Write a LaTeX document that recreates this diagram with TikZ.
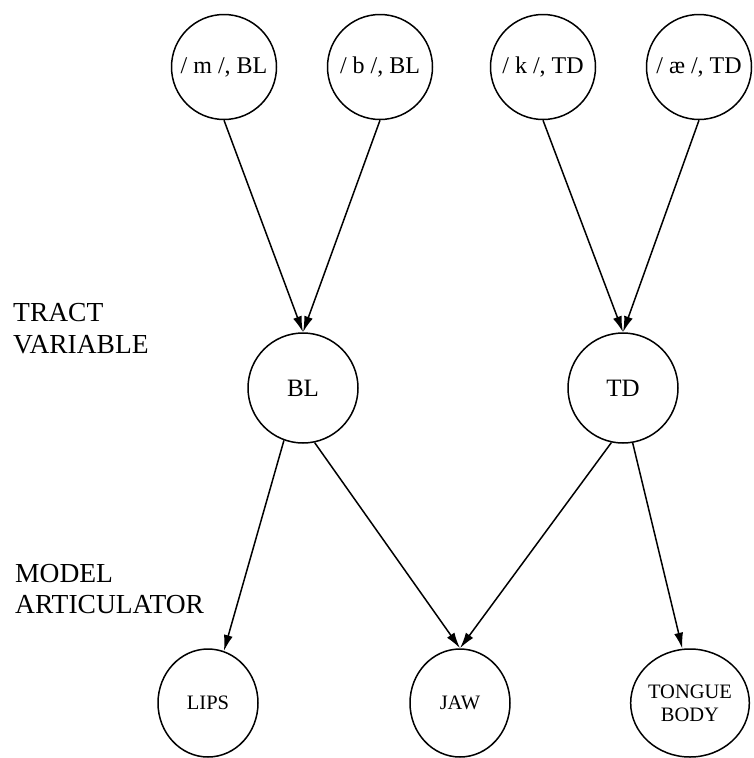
\documentclass[tikz,border=0pt]{standalone}
\usepackage{fontspec}
\setmainfont{Liberation Serif}
\usetikzlibrary{arrows.meta,shapes.geometric}
\begin{document}
\begin{tikzpicture}[x=1pt,y=-1pt,
  top/.style={circle,draw,line width=1.5pt,minimum size=105pt,inner sep=0pt,font=\fontsize{24}{28}\selectfont},
  mid/.style={circle,draw,line width=1.5pt,minimum size=110pt,inner sep=0pt,font=\fontsize{25}{28}\selectfont},
  bot/.style={ellipse,draw,line width=1.5pt,minimum width=100pt,minimum height=108pt,inner sep=0pt,font=\fontsize{20.5}{23}\selectfont,align=center},
  lab/.style={anchor=base west,font=\fontsize{27.5}{30}\selectfont,inner sep=0pt},
  arr/.style={-{Latex[length=16pt,width=9pt]},line width=1.5pt}]
\useasboundingbox (0,0) rectangle (753,758);
\node[top] (m) at (224,67) {/ m /, BL};
\node[top] (b) at (380,67) {/ b /, BL};
\node[top] (k) at (543,67) {/ k /, TD};
\node[top] (ae) at (699,67) {/ æ /, TD};
\node[mid] (BL) at (303,388) {BL};
\node[mid] (TD) at (623,388) {TD};
\node[bot] (lips) at (208,703) {LIPS};
\node[bot] (jaw) at (460,703) {JAW};
\node[bot] (tongue) at (690,703) {TONGUE\\BODY};
\draw[arr] (m.south) -- (BL.north);
\draw[arr] (b.south) -- (BL.north);
\draw[arr] (k.south) -- (TD.north);
\draw[arr] (ae.south) -- (TD.north);
\draw[arr] (BL.-110) -- (lips.73);
\draw[arr] (BL.-78) -- (jaw.north);
\draw[arr] (TD.-102) -- (jaw.north);
\draw[arr] (TD.-80) -- (tongue.98);
\node[lab] (tract) at (13,321) {TRACT};
\node[lab] (variable) at (13,353) {VARIABLE};
\node[lab] (model) at (15,582) {MODEL};
\node[lab] (artic) at (15,613) {ARTICULATOR};
\end{tikzpicture}
\end{document}
